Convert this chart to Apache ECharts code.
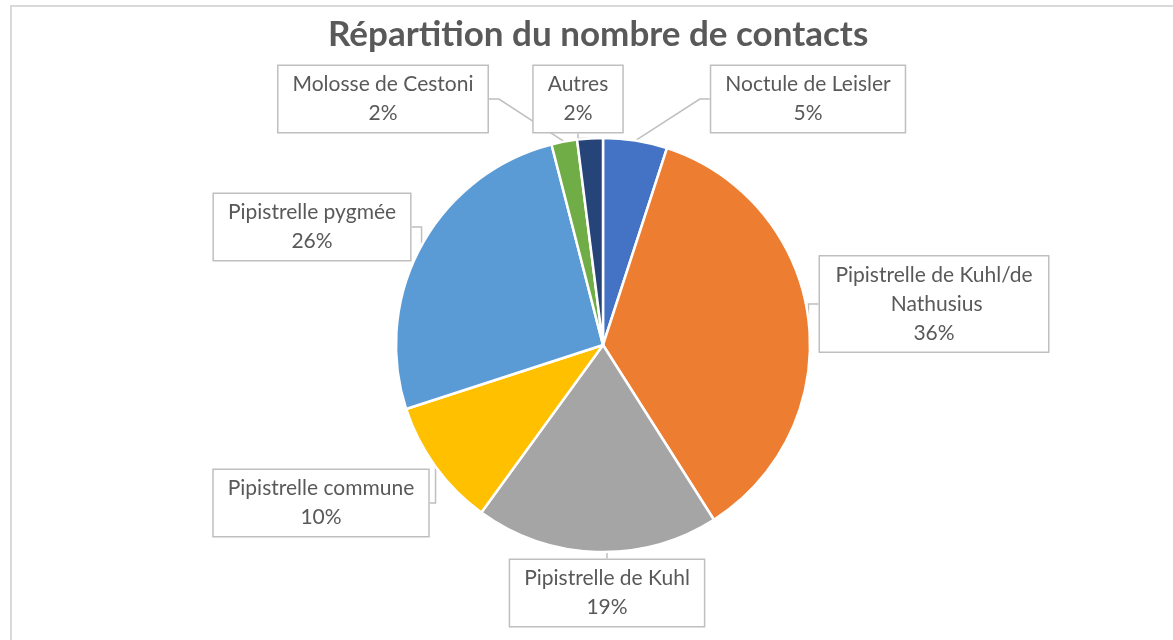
<!DOCTYPE html>
<html>
<head>
<meta charset="utf-8">
<script src="https://cdn.jsdelivr.net/npm/echarts@6/dist/echarts.min.js"></script>
<style>
  html, body { margin: 0; padding: 0; background: #fff; }
  #chart { width: 1173px; height: 640px; }
</style>
</head>
<body>
<div id="chart"></div>
<script>
  // data (percent of contacts)
  const categories = [
    'Noctule de Leisler',
    'Pipistrelle de Kuhl/de Nathusius',
    'Pipistrelle de Kuhl',
    'Pipistrelle commune',
    'Pipistrelle pygmée',
    'Molosse de Cestoni',
    'Autres'
  ];
  const values = [5, 36, 19, 10, 26, 2, 2];
  const colors = ['#4472C4', '#ED7D31', '#A5A5A5', '#FFC000', '#5B9BD5', '#70AD47', '#264478'];

  // where each callout box sits (centre, px)
  const labelSpots = [
    [808, 99],
    [934, 304],
    [607, 593],
    [321, 503],
    [312, 227],
    [383, 99],
    [578, 99]
  ];

  const chart = echarts.init(document.getElementById('chart'));

  const option = {
    backgroundColor: '#fff',
    animation: false,
    title: {
      text: 'Répartition du nombre de contacts',
      left: 323,
      top: 12,
      textStyle: {
        fontFamily: 'Lato',
        fontWeight: 'bold',
        fontSize: 35,
        color: '#595959'
      }
    },
    graphic: [{
      type: 'rect',
      shape: { x: 11, y: 6, width: 1200, height: 700 },
      style: { fill: 'none', stroke: '#d9d9d9', lineWidth: 2 },
      silent: true
    }],
    series: [{
      type: 'pie',
      center: [603, 345],
      radius: 207,
      startAngle: 90,
      clockwise: true,
      avoidLabelOverlap: false,
      itemStyle: {
        borderColor: '#fff',
        borderWidth: 2.5
      },
      label: {
        show: true,
        formatter: '{b}\n{d}%',
        fontFamily: 'Lato',
        fontSize: 21,
        lineHeight: 29,
        color: '#595959',
        align: 'center',
        backgroundColor: '#fff',
        borderColor: '#bfbfbf',
        borderWidth: 1.5,
        padding: [4, 14, 4, 14]
      },
      labelLine: {
        show: true,
        length: 10,
        length2: 10,
        lineStyle: { color: '#bfbfbf', width: 1.5 }
      },
      labelLayout: function (p) {
        const spot = labelSpots[p.dataIndex];
        return { x: spot[0], y: spot[1], align: 'center', verticalAlign: 'middle' };
      },
      data: categories.map(function (name, i) {
        const item = { name: name, value: values[i], itemStyle: { color: colors[i] } };
        if (i === 1) {
          item.label = { width: 200, overflow: 'break' };
        }
        return item;
      })
    }]
  };

  chart.setOption(option);
</script>
</body>
</html>
